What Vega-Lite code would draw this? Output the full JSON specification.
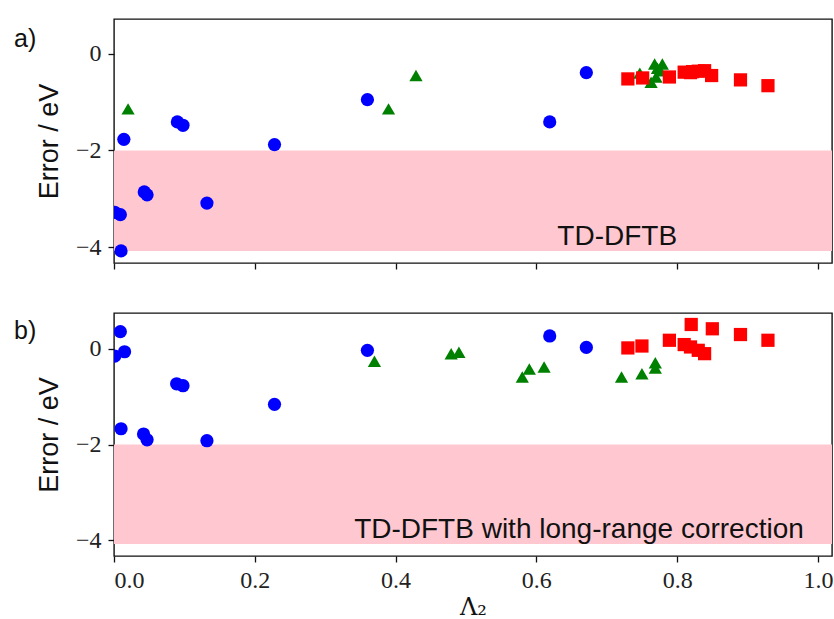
{
  "$schema": "https://vega.github.io/schema/vega-lite/v6.json",
  "background": "white",
  "padding": {"left": 13, "top": 18, "right": 3, "bottom": 0},
  "spacing": 41,
  "config": {
    "view": {"stroke": "#111", "strokeWidth": 1.4},
    "axis": {
      "grid": false,
      "domain": false,
      "tickColor": "#111",
      "tickSize": 6,
      "tickWidth": 1.3,
      "labelFont": "Liberation Serif",
      "labelFontSize": 24,
      "labelColor": "#222",
      "titleFont": "Liberation Sans",
      "titleFontSize": 27,
      "titleFontWeight": "normal",
      "titleColor": "#111"
    }
  },
  "datasets": {
    "a": [
      {"lam": 0.001, "err": -3.28, "kind": "blue"},
      {"lam": 0.009, "err": -3.33, "kind": "blue"},
      {"lam": 0.010, "err": -4.08, "kind": "blue"},
      {"lam": 0.014, "err": -1.77, "kind": "blue"},
      {"lam": 0.043, "err": -2.86, "kind": "blue"},
      {"lam": 0.047, "err": -2.92, "kind": "blue"},
      {"lam": 0.090, "err": -1.41, "kind": "blue"},
      {"lam": 0.098, "err": -1.48, "kind": "blue"},
      {"lam": 0.132, "err": -3.09, "kind": "blue"},
      {"lam": 0.228, "err": -1.88, "kind": "blue"},
      {"lam": 0.360, "err": -0.95, "kind": "blue"},
      {"lam": 0.619, "err": -1.41, "kind": "blue"},
      {"lam": 0.671, "err": -0.39, "kind": "blue"},
      {"lam": 0.020, "err": -1.14, "kind": "green"},
      {"lam": 0.390, "err": -1.14, "kind": "green"},
      {"lam": 0.429, "err": -0.45, "kind": "green"},
      {"lam": 0.747, "err": -0.40, "kind": "green"},
      {"lam": 0.763, "err": -0.59, "kind": "green"},
      {"lam": 0.770, "err": -0.48, "kind": "green"},
      {"lam": 0.776, "err": -0.35, "kind": "green"},
      {"lam": 0.772, "err": -0.30, "kind": "green"},
      {"lam": 0.768, "err": -0.21, "kind": "green"},
      {"lam": 0.779, "err": -0.21, "kind": "green"},
      {"lam": 0.730, "err": -0.52, "kind": "red"},
      {"lam": 0.751, "err": -0.50, "kind": "red"},
      {"lam": 0.789, "err": -0.48, "kind": "red"},
      {"lam": 0.810, "err": -0.38, "kind": "red"},
      {"lam": 0.819, "err": -0.39, "kind": "red"},
      {"lam": 0.822, "err": -0.37, "kind": "red"},
      {"lam": 0.830, "err": -0.36, "kind": "red"},
      {"lam": 0.839, "err": -0.35, "kind": "red"},
      {"lam": 0.849, "err": -0.45, "kind": "red"},
      {"lam": 0.890, "err": -0.54, "kind": "red"},
      {"lam": 0.929, "err": -0.66, "kind": "red"}
    ],
    "b": [
      {"lam": 0.001, "err": -0.15, "kind": "blue"},
      {"lam": 0.009, "err": 0.36, "kind": "blue"},
      {"lam": 0.010, "err": -1.67, "kind": "blue"},
      {"lam": 0.015, "err": -0.06, "kind": "blue"},
      {"lam": 0.042, "err": -1.78, "kind": "blue"},
      {"lam": 0.047, "err": -1.90, "kind": "blue"},
      {"lam": 0.089, "err": -0.73, "kind": "blue"},
      {"lam": 0.098, "err": -0.77, "kind": "blue"},
      {"lam": 0.132, "err": -1.92, "kind": "blue"},
      {"lam": 0.228, "err": -1.16, "kind": "blue"},
      {"lam": 0.360, "err": -0.03, "kind": "blue"},
      {"lam": 0.619, "err": 0.27, "kind": "blue"},
      {"lam": 0.671, "err": 0.03, "kind": "blue"},
      {"lam": 0.370, "err": -0.26, "kind": "green"},
      {"lam": 0.479, "err": -0.10, "kind": "green"},
      {"lam": 0.490, "err": -0.07, "kind": "green"},
      {"lam": 0.580, "err": -0.59, "kind": "green"},
      {"lam": 0.590, "err": -0.42, "kind": "green"},
      {"lam": 0.611, "err": -0.38, "kind": "green"},
      {"lam": 0.721, "err": -0.59, "kind": "green"},
      {"lam": 0.750, "err": -0.52, "kind": "green"},
      {"lam": 0.769, "err": -0.29, "kind": "green"},
      {"lam": 0.769, "err": -0.40, "kind": "green"},
      {"lam": 0.730, "err": 0.02, "kind": "red"},
      {"lam": 0.750, "err": 0.06, "kind": "red"},
      {"lam": 0.789, "err": 0.18, "kind": "red"},
      {"lam": 0.810, "err": 0.09, "kind": "red"},
      {"lam": 0.819, "err": 0.04, "kind": "red"},
      {"lam": 0.820, "err": 0.51, "kind": "red"},
      {"lam": 0.830, "err": -0.03, "kind": "red"},
      {"lam": 0.839, "err": -0.10, "kind": "red"},
      {"lam": 0.850, "err": 0.42, "kind": "red"},
      {"lam": 0.890, "err": 0.30, "kind": "red"},
      {"lam": 0.929, "err": 0.18, "kind": "red"}
    ],
    "band": [{"lo": -4.08, "hi": -2}]
  },
  "vconcat": [
    {
      "width": 718,
      "height": 244,
      "layer": [
        {
          "data": {"name": "band"},
          "mark": {"type": "rect", "color": "#ffc8d0"},
          "encoding": {
            "x": {"datum": 0, "type": "quantitative", "scale": {"domain": [0, 1.02], "nice": false, "zero": false},
                  "axis": {"values": [0, 0.2, 0.4, 0.6, 0.8, 1.0], "labels": false, "title": null}},
            "x2": {"datum": 1.02},
            "y": {"field": "hi", "type": "quantitative", "scale": {"domain": [-4.33, 0.72], "nice": false, "zero": false},
                  "axis": {"values": [-4, -2, 0], "title": "Error / eV", "titlePadding": 12, "labelPadding": 7}},
            "y2": {"field": "lo"}
          }
        },
        {
          "data": {"name": "a"},
          "mark": {"type": "point", "filled": true, "opacity": 1, "size": 175, "clip": true},
          "encoding": {
            "x": {"field": "lam", "type": "quantitative"},
            "y": {"field": "err", "type": "quantitative"},
            "shape": {"field": "kind", "type": "nominal", "legend": null,
                      "scale": {"domain": ["blue", "green", "red"], "range": ["circle", "triangle-up", "square"]}},
            "color": {"field": "kind", "type": "nominal", "legend": null,
                      "scale": {"domain": ["blue", "green", "red"], "range": ["#0000ff", "#008000", "#ff0000"]}}
          }
        },
        {
          "data": {"values": [{"label": "TD-DFTB"}]},
          "mark": {"type": "text", "align": "right", "baseline": "alphabetic", "font": "Liberation Sans", "fontSize": 28, "color": "#111"},
          "encoding": {
            "x": {"datum": 0.8, "type": "quantitative"},
            "y": {"datum": -3.95, "type": "quantitative"},
            "text": {"field": "label"}
          }
        },
        {
          "data": {"values": [{"label": "a)"}]},
          "mark": {"type": "text", "align": "left", "baseline": "middle", "font": "Liberation Sans", "fontSize": 25, "color": "#111"},
          "encoding": {
            "x": {"datum": -0.142, "type": "quantitative"},
            "y": {"datum": 0.3, "type": "quantitative"},
            "text": {"field": "label"}
          }
        }
      ]
    },
    {
      "width": 718,
      "height": 243,
      "layer": [
        {
          "data": {"name": "band"},
          "mark": {"type": "rect", "color": "#ffc8d0"},
          "encoding": {
            "x": {"datum": 0, "type": "quantitative", "scale": {"domain": [0, 1.02], "nice": false, "zero": false},
                  "axis": {"values": [0, 0.2, 0.4, 0.6, 0.8, 1.0], "format": ".1f", "title": "Λ₂",
                           "titleFont": "DejaVu Serif", "titleFontSize": 24, "titlePadding": 3, "labelPadding": 6}},
            "x2": {"datum": 1.02},
            "y": {"field": "hi", "type": "quantitative", "scale": {"domain": [-4.33, 0.75], "nice": false, "zero": false},
                  "axis": {"values": [-4, -2, 0], "title": "Error / eV", "titlePadding": 12, "labelPadding": 7}},
            "y2": {"field": "lo"}
          }
        },
        {
          "data": {"name": "b"},
          "mark": {"type": "point", "filled": true, "opacity": 1, "size": 175, "clip": true},
          "encoding": {
            "x": {"field": "lam", "type": "quantitative"},
            "y": {"field": "err", "type": "quantitative"},
            "shape": {"field": "kind", "type": "nominal", "legend": null,
                      "scale": {"domain": ["blue", "green", "red"], "range": ["circle", "triangle-up", "square"]}},
            "color": {"field": "kind", "type": "nominal", "legend": null,
                      "scale": {"domain": ["blue", "green", "red"], "range": ["#0000ff", "#008000", "#ff0000"]}}
          }
        },
        {
          "data": {"values": [{"label": "TD-DFTB with long-range correction"}]},
          "mark": {"type": "text", "align": "right", "baseline": "alphabetic", "font": "Liberation Sans", "fontSize": 28, "color": "#111"},
          "encoding": {
            "x": {"datum": 0.98, "type": "quantitative"},
            "y": {"datum": -3.95, "type": "quantitative"},
            "text": {"field": "label"}
          }
        },
        {
          "data": {"values": [{"label": "b)"}]},
          "mark": {"type": "text", "align": "left", "baseline": "middle", "font": "Liberation Sans", "fontSize": 25, "color": "#111"},
          "encoding": {
            "x": {"datum": -0.142, "type": "quantitative"},
            "y": {"datum": 0.38, "type": "quantitative"},
            "text": {"field": "label"}
          }
        }
      ]
    }
  ]
}
